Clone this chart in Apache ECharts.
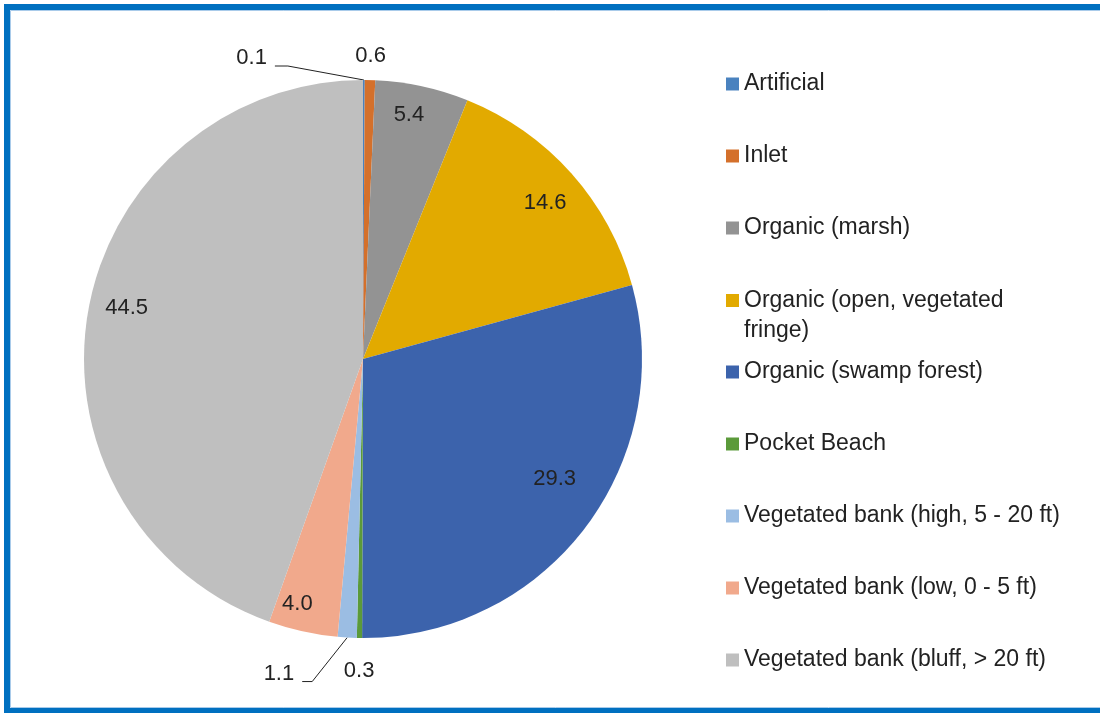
<!DOCTYPE html>
<html>
<head>
<meta charset="utf-8">
<script src="https://cdn.jsdelivr.net/npm/echarts@6/dist/echarts.min.js"></script>
<style>
  html, body { margin: 0; padding: 0; background: #ffffff; }
  #chart { width: 1100px; height: 713px; }
</style>
</head>
<body>
<div id="chart"></div>
<script>
// Shoreline type shares (%)
const categories = [
  'Artificial',
  'Inlet',
  'Organic (marsh)',
  'Organic (open, vegetated fringe)',
  'Organic (swamp forest)',
  'Pocket Beach',
  'Vegetated bank (high, 5 - 20 ft)',
  'Vegetated bank (low, 0 - 5 ft)',
  'Vegetated bank (bluff, > 20 ft)'
];
const shares = [0.1, 0.6, 5.4, 14.6, 29.3, 0.3, 1.1, 4.0, 44.5];
const sliceColors = ['#4A82BF', '#D4702B', '#939393', '#E2AA00', '#3C63AC', '#5B9A3A', '#9BBDE3', '#F1A98C', '#BFBFBF'];

const CX = 363, CY = 359, R = 279;
const TEXT = '#222222';
const FONT = '"Liberation Sans", Arial, sans-serif';
const INSIDE_RATIO = 0.86;

// Thin slices get their label outside the rim; two are pulled aside with a leader line.
const outsideLabels = {
  'Artificial': { leader: { bend: [-76, -14], run: -13 } },
  'Inlet': { gap: 24 },
  'Pocket Beach': { gap: 33 },
  'Vegetated bank (high, 5 - 20 ft)': { leader: { bend: [-35, 44], run: -10 } }
};
// Best-fit nudges for the labels drawn inside the wider slices
const insideNudge = {
  'Organic (marsh)': [-5, -10],
  'Organic (open, vegetated fringe)': [3, 4],
  'Organic (swamp forest)': [1, -26],
  'Vegetated bank (low, 0 - 5 ft)': [-14, 11],
  'Vegetated bank (bluff, > 20 ft)': [0, -10]
};

const total = shares.reduce((a, b) => a + b, 0);
const midAngles = [];
let acc = 0;
shares.forEach(v => { midAngles.push((acc + v / 2) / total * 2 * Math.PI); acc += v; });
function rimPoint(i, r) {
  return [CX + r * Math.sin(midAngles[i]), CY - r * Math.cos(midAngles[i])];
}

const pieData = categories.map((name, i) => {
  const spec = outsideLabels[name];
  return {
    name: name,
    value: shares[i],
    itemStyle: { color: sliceColors[i] },
    labelLine: { show: !!(spec && spec.leader) }
  };
});

const legendBase = {
  orient: 'vertical',
  left: 721,
  itemWidth: 13,
  itemHeight: 13,
  itemGap: 49,
  padding: 5,
  icon: 'rect',
  selectedMode: false,
  textStyle: { fontFamily: FONT, fontSize: 23, color: TEXT }
};

const chart = echarts.init(document.getElementById('chart'), null, { renderer: 'canvas' });
chart.setOption({
  animation: false,
  backgroundColor: '#ffffff',
  legend: [
    Object.assign({}, legendBase, { top: 67.5, data: categories.slice(0, 3) }),
    Object.assign({}, legendBase, {
      top: 280.5,
      itemHeight: 43,
      // square swatch kept level with the first text line
      icon: 'path://M0,0H13V13H0Z M0,43Z',
      data: categories.slice(3, 4),
      textStyle: { fontFamily: FONT, fontSize: 23, color: TEXT, width: 290, overflow: 'break', lineHeight: 30 }
    }),
    Object.assign({}, legendBase, { top: 355.5, data: categories.slice(4) })
  ],
  series: [{
    type: 'pie',
    center: [CX, CY],
    radius: [0, R],
    startAngle: 90,
    clockwise: true,
    avoidLabelOverlap: false,
    silent: true,
    itemStyle: { borderWidth: 0 },
    label: {
      show: true,
      position: 'outside',
      fontFamily: FONT,
      fontSize: 22,
      color: TEXT,
      formatter: p => p.value.toFixed(1)
    },
    labelLine: {
      show: false,
      lineStyle: { color: TEXT, width: 1 }
    },
    labelLayout: function (p) {
      const i = p.dataIndex;
      const name = categories[i];
      const spec = outsideLabels[name];
      if (!spec) {
        const q = rimPoint(i, R * INSIDE_RATIO);
        const d = insideNudge[name] || [0, 0];
        return { x: q[0] + d[0], y: q[1] + d[1], align: 'center', verticalAlign: 'middle' };
      }
      if (spec.gap != null) {
        const q = rimPoint(i, R + spec.gap);
        return { x: q[0], y: q[1], align: 'center', verticalAlign: 'middle' };
      }
      const P = rimPoint(i, R);
      const B = [P[0] + spec.leader.bend[0], P[1] + spec.leader.bend[1]];
      const E = [B[0] + spec.leader.run, B[1]];
      return {
        x: E[0] - 8, y: E[1] - 8,
        align: 'right', verticalAlign: 'middle',
        labelLinePoints: [P, B, E]
      };
    },
    data: pieData
  }],
  graphic: [
    {
      type: 'rect', silent: true, z: 100,
      shape: { x: 7, y: 7, width: 1100, height: 704 },
      style: { fill: 'none', stroke: '#0070C0', lineWidth: 6 }
    },
    {
      type: 'rect', silent: true, z: 100,
      shape: { x: 10.5, y: 10.5, width: 1100, height: 697 },
      style: { fill: 'none', stroke: '#A9CBEA', lineWidth: 1 }
    }
  ]
});
</script>
</body>
</html>
